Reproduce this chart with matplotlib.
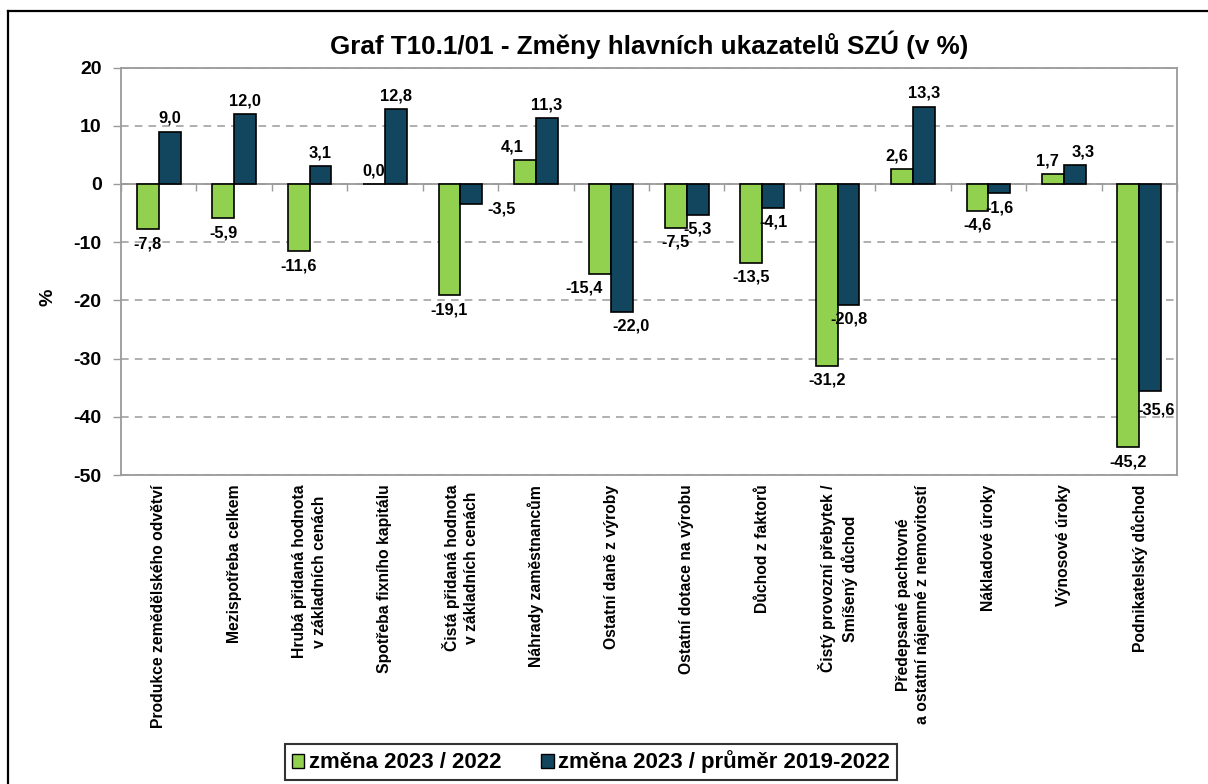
import numpy as np
import matplotlib
matplotlib.use("Agg")
from matplotlib import pyplot as plt
from matplotlib.lines import Line2D
from matplotlib.patches import Patch

# data
categories = [
    "Produkce zemědělského odvětví",
    "Mezispotřeba celkem",
    "Hrubá přidaná hodnota\nv základních cenách",
    "Spotřeba fixního kapitálu",
    "Čistá přidaná hodnota\nv základních cenách",
    "Náhrady zaměstnancům",
    "Ostatní daně z výroby",
    "Ostatní dotace na výrobu",
    "Důchod z faktorů",
    "Čistý provozní přebytek /\nSmíšený důchod",
    "Předepsané pachtovné\na ostatní nájemné z nemovitostí",
    "Nákladové úroky",
    "Výnosové úroky",
    "Podnikatelský důchod",
]
zmena_2022 = [-7.8, -5.9, -11.6, 0.0, -19.1, 4.1, -15.4, -7.5, -13.5, -31.2, 2.6, -4.6, 1.7, -45.2]
zmena_prumer = [9.0, 12.0, 3.1, 12.8, -3.5, 11.3, -22.0, -5.3, -4.1, -20.8, 13.3, -1.6, 3.3, -35.6]
series_names = ["změna 2023 / 2022", "změna 2023 / průměr 2019-2022"]

# label nudges (points) where the original labels were moved by hand
nudge_green = {5: (-9, 0), 6: (-12, 0), 10: (-4, 0), 12: (-4, 0)}
nudge_blue = {4: (22, 7), 6: (6, 0), 12: (6, 0), 13: (4, -3)}

plt.rcParams["font.family"] = ["Liberation Sans", "DejaVu Sans"]
plt.rcParams["font.weight"] = "bold"
plt.rcParams["axes.unicode_minus"] = False

green = "#92d050"
blue = "#12465f"
grey = "#9a9a9a"

fig = plt.figure(figsize=(12.08, 7.84), dpi=100)
ax = fig.add_axes([121 / 1208, 1 - 475 / 784, (1177 - 121) / 1208, (475 - 67.5) / 784])

x = np.arange(len(categories))
w = 0.29
ax.bar(x - w / 2, zmena_2022, w, color=green, edgecolor="black", linewidth=1.2, zorder=3)
ax.bar(x + w / 2, zmena_prumer, w, color=blue, edgecolor="black", linewidth=1.2, zorder=3)

def label(xs, vals, nudges):
    for i, (xx, v) in enumerate(zip(xs, vals)):
        dx, dy = nudges.get(i, (0, 0))
        if v >= 0:
            off, va = 4, "bottom"
        else:
            off, va = -5, "top"
        ax.annotate(f"{v:.1f}".replace(".", ","), (xx, v), xytext=(dx, off + dy),
                    textcoords="offset points", ha="center", va=va,
                    fontsize=11.8, fontweight="bold", zorder=5)

label(x - w / 2, zmena_2022, nudge_green)
label(x + w / 2, zmena_prumer, nudge_blue)

ax.set_xlim(-0.5, len(categories) - 0.5)
ax.set_ylim(-50, 20)
ax.set_yticks(range(-50, 21, 10))
ax.tick_params(axis="y", direction="out", length=6, width=1, color=grey, pad=8, labelsize=14)
for t in ax.get_yticklabels():
    t.set_fontweight("bold")
ax.set_xticks(np.arange(-0.5, len(categories), 1))
ax.set_xticklabels([])
ax.tick_params(axis="x", direction="out", length=5, width=1, color=grey)

ax.yaxis.grid(True, linestyle=(0, (5, 4)), color=grey, linewidth=1.1)
ax.set_axisbelow(True)
for s in ["left", "right", "top", "bottom"]:
    ax.spines[s].set_color(grey)
    ax.spines[s].set_linewidth(1.3)
ax.spines["bottom"].set_position(("data", 0))
ax.axhline(-50, color=grey, linewidth=1.3, clip_on=False, zorder=4)

for i, lab in enumerate(categories):
    ax.annotate(lab, (i, -50), xytext=(0, -7), textcoords="offset points",
                rotation=90, ha="center", va="top", multialignment="center",
                fontsize=11.3, fontweight="bold", linespacing=1.4)

fig.text(48 / 1208, 1 - 297 / 784, "%", rotation=90, ha="center", va="center",
         fontsize=14, fontweight="bold")

fig.text(649 / 1208, 1 - 45 / 784, "Graf T10.1/01 - Změny hlavních ukazatelů SZÚ (v %)",
         ha="center", va="center", fontsize=18.7, fontweight="bold")

handles = [Patch(facecolor=green, edgecolor="black", linewidth=1),
           Patch(facecolor=blue, edgecolor="black", linewidth=1)]
leg = fig.legend(handles, series_names, loc="center", bbox_to_anchor=(591 / 1208, 1 - 762 / 784),
                 ncol=2, frameon=True, fancybox=False, edgecolor="black",
                 handlelength=0.55, handleheight=0.6, handletextpad=0.2, columnspacing=1.8,
                 borderpad=0.3,
                 prop={"weight": "bold", "size": 16})
leg.get_frame().set_linewidth(1.5)

# outer chart border (top and left visible)
fig.add_artist(Line2D([8 / 1208, 1], [1 - 11 / 784, 1 - 11 / 784], color="black", linewidth=1.6))
fig.add_artist(Line2D([8 / 1208, 8 / 1208], [0, 1 - 11 / 784], color="black", linewidth=1.6))

fig.savefig("out.png", dpi=100)
